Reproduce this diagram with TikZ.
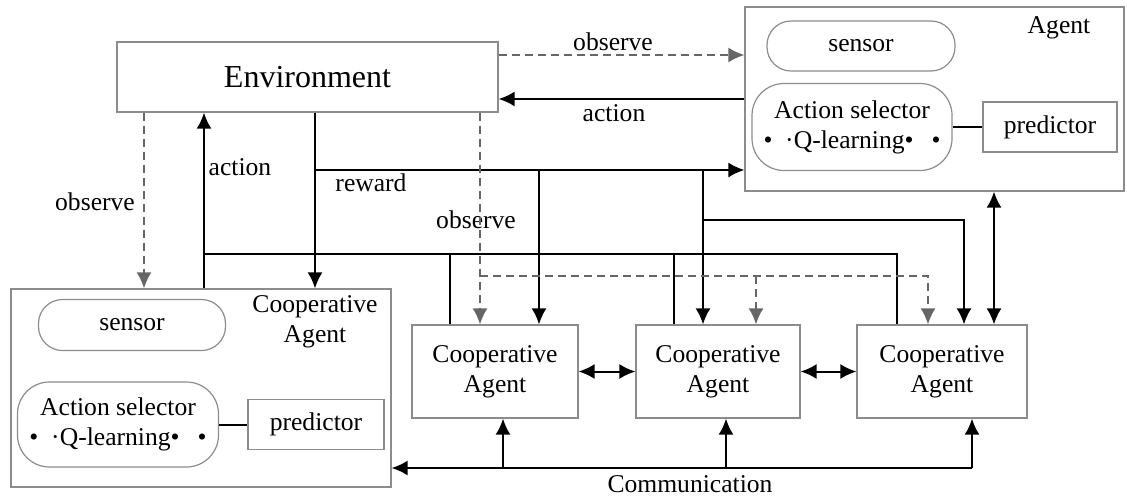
\documentclass[tikz,border=0pt]{standalone}
\usepackage{fontspec}
\setmainfont{Liberation Serif}
\usetikzlibrary{arrows.meta}

\begin{document}
\begin{tikzpicture}[x=0.5pt, y=-0.5pt, >={Latex[length=8pt,width=7.5pt]},
    every node/.style={font=\fontsize{12.8pt}{15pt}\selectfont},
    box/.style={draw=black!45, line width=0.6pt, inner sep=0pt, align=center},
    pill/.style={box, rounded corners=12pt},
    flow/.style={line width=1pt},
    obs/.style={line width=1pt, draw=black!60, dash pattern=on 4pt off 2.5pt},
    lbl/.style={inner sep=0pt, align=center}]
    \useasboundingbox (0,0) rectangle (1127,498);

    % Boxes
    \node[box, minimum width=190.5pt, minimum height=35pt, font=\fontsize{16pt}{19pt}\selectfont] (env) at (307.5,77) {Environment};

    \node[box, minimum width=189.5pt, minimum height=92pt] (agent) at (934.5,99) {};
    \node[lbl] (agentlbl) at (1059,28) {Agent};
    \node[pill, minimum width=94pt, minimum height=25pt] (sensA) at (861,46) {sensor};
    \node[pill, rounded corners=16pt, minimum width=100pt, minimum height=43.5pt] (selA) at (852,127)
        {Action selector\\ \textbullet\hspace{0.5em}·Q-learning\textbullet\hspace{0.7em}\textbullet};
    \node[box, minimum width=67pt, minimum height=25pt] (predA) at (1050,127) {predictor};

    \node[box, minimum width=190pt, minimum height=99pt] (ca0) at (201,388) {};
    \node[lbl] (ca0lbl) at (315,322) {Cooperative\\Agent};
    \node[pill, minimum width=93.5pt, minimum height=25.5pt] (sensL) at (132,325) {sensor};
    \node[pill, rounded corners=16pt, minimum width=100.5pt, minimum height=42.5pt] (selL) at (118,424.5)
        {Action selector\\ \textbullet\hspace{0.5em}·Q-learning\textbullet\hspace{0.7em}\textbullet};
    \node[box, minimum width=68pt, minimum height=25pt] (predL) at (316,424.5) {predictor};

    \node[box, minimum width=83pt, minimum height=46.5pt] (ca1) at (495,371.5) {Cooperative\\Agent};
    \node[box, minimum width=82pt, minimum height=46.5pt] (ca2) at (718,371.5) {Cooperative\\Agent};
    \node[box, minimum width=85pt, minimum height=46.5pt] (ca3) at (942,371.5) {Cooperative\\Agent};

    % Labels
    \node[lbl] (obsTop) at (613,42) {observe};
    \node[lbl] (actTop) at (614,113) {action};
    \node[lbl] (actLeft) at (240,167) {action};
    \node[lbl] (rewLbl) at (371,183) {reward};
    \node[lbl] (obsLeft) at (95,202) {observe};
    \node[lbl] (obsMid) at (476,220) {observe};
    \node[lbl] (comLbl) at (690,484) {Communication};

    % Junctions
    \coordinate (yobs) at (0,55);
    \coordinate (yact) at (0,99);
    \coordinate (rewJ) at (315,170);
    \coordinate (rewB1) at (539,170);
    \coordinate (rewB2) at (703,170);
    \coordinate (rewK) at (964,220);
    \coordinate (actL) at (204,254);
    \coordinate (actB1) at (450,254);
    \coordinate (actB2) at (674,254);
    \coordinate (actR) at (897,254);
    \coordinate (obsL) at (144,200);
    \coordinate (obsJ) at (480,276);
    \coordinate (obsM) at (756,276);
    \coordinate (obsE) at (928,276);
    \coordinate (dbl) at (994,250);
    \coordinate (com1) at (503,468);
    \coordinate (com2) at (726,468);
    \coordinate (comR) at (972,468);

    % Connectors
    \draw[obs,->] (env.east |- yobs) -- (agent.west |- yobs);
    \draw[flow,->] (agent.west |- yact) -- (env.east |- yact);

    \draw[flow,->] (env.south -| rewJ) -- (ca0.north -| rewJ);
    \draw[flow,->] (rewJ) -- (agent.west |- rewJ);
    \draw[flow,->] (rewB1) -- (ca1.north -| rewB1);
    \draw[flow,->] (rewB2) -- (ca2.north -| rewB2);
    \draw[flow,->] (rewB2 |- rewK) -| (ca3.north -| rewK);

    \draw[flow,->] (ca0.north -| actL) -- (env.south -| actL);
    \draw[flow] (actL) -- (actR) -- (ca3.north -| actR);
    \draw[flow] (ca1.north -| actB1) -- (actB1);
    \draw[flow] (ca2.north -| actB2) -- (actB2);

    \draw[obs,->] (env.south -| obsL) -- (ca0.north -| obsL);
    \draw[obs,->] (env.south -| obsJ) -- (ca1.north -| obsJ);
    \draw[obs,->] (obsJ) -| (ca3.north -| obsE);
    \draw[obs,->] (obsM) -- (ca2.north -| obsM);

    \draw[flow,<->] (ca1) -- (ca2);
    \draw[flow,<->] (ca2) -- (ca3);
    \draw[flow,<->] (agent.south -| dbl) -- (ca3.north -| dbl);

    \draw[flow] (selA) -- (predA);
    \draw[flow] (selL) -- (predL);

    \draw[flow,->] (comR) -- (ca0.east |- comR);
    \draw[flow,->] (comR) -- (ca3.south -| comR);
    \draw[flow,->] (com1) -- (ca1.south -| com1);
    \draw[flow,->] (com2) -- (ca2.south -| com2);
\end{tikzpicture}
\end{document}
